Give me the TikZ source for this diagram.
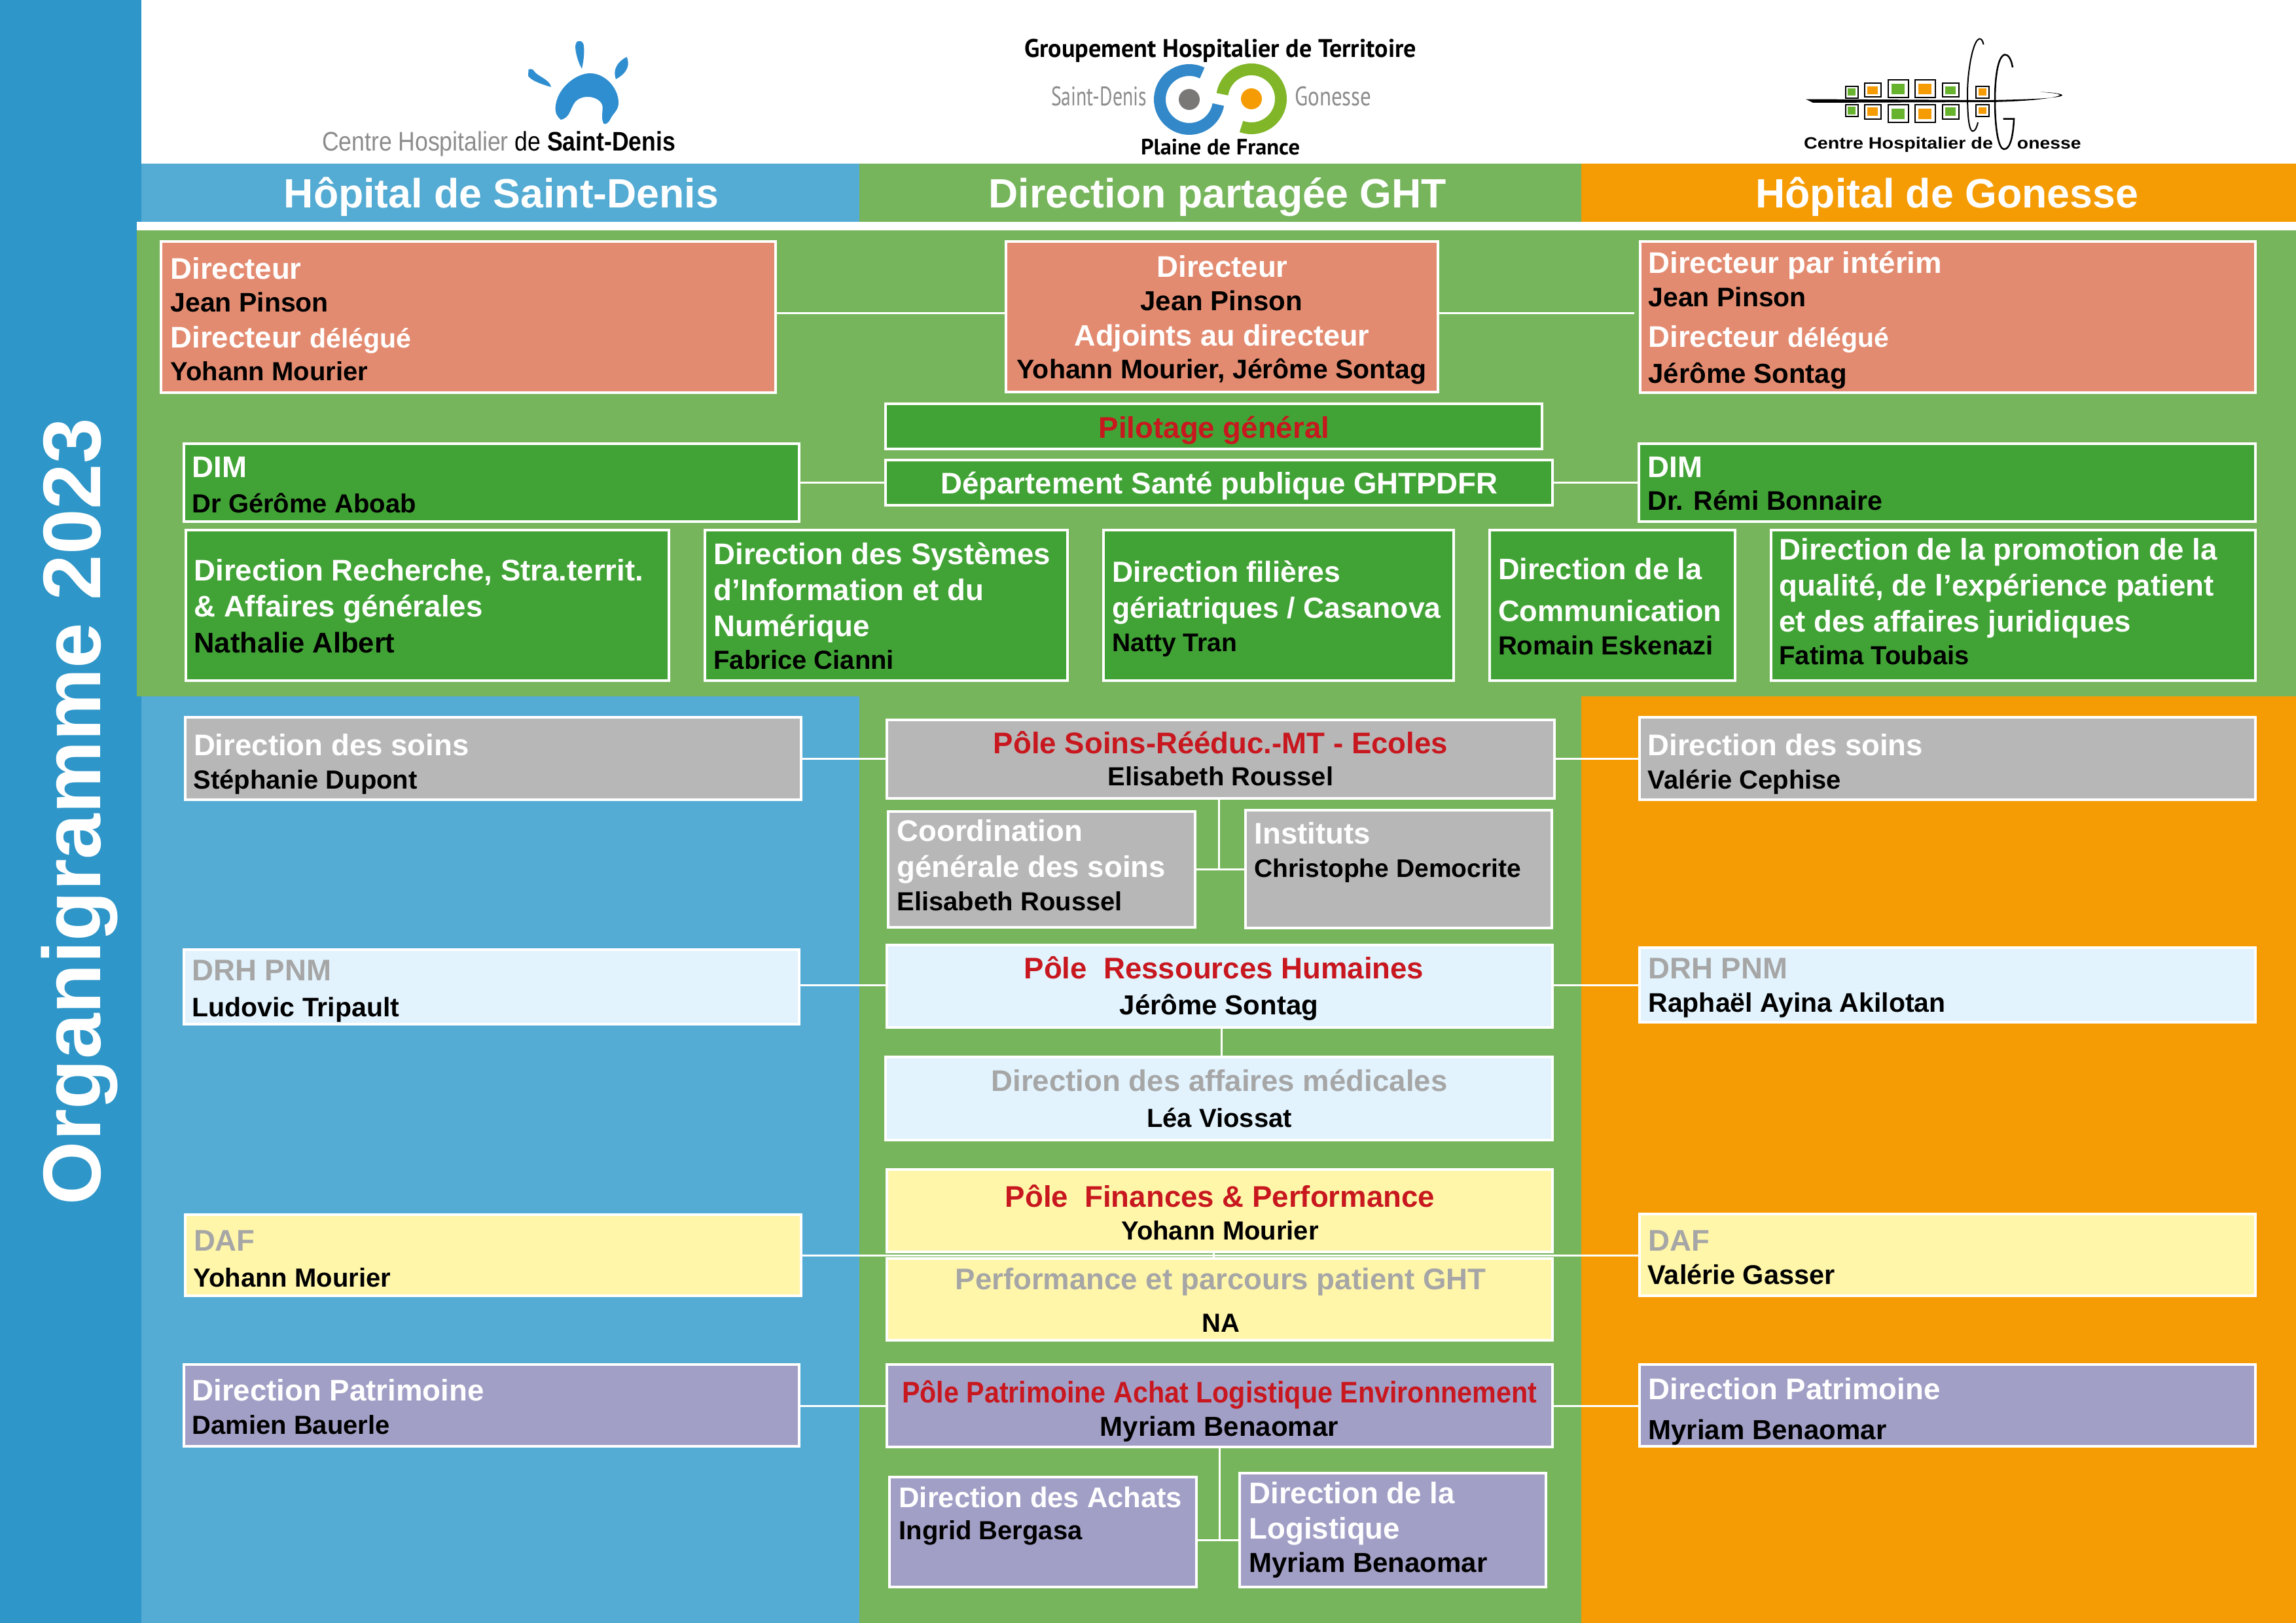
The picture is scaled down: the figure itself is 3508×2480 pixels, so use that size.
\documentclass[tikz,border=0pt]{standalone}
\usepackage{fontspec}
\setmainfont{Liberation Sans}
\newfontfamily\ptf{PT Sans}
\definecolor{sideblue}{HTML}{2E96C8}
\definecolor{sdblue}{HTML}{54ABD3}
\definecolor{ghtgreen}{HTML}{76B55B}
\definecolor{gonorange}{HTML}{F59C04}
\definecolor{salmon}{HTML}{E38B70}
\definecolor{boxgreen}{HTML}{41A335}
\definecolor{boxgray}{HTML}{B7B7B7}
\definecolor{boxsky}{HTML}{E2F3FE}
\definecolor{boxyellow}{HTML}{FFF6AA}
\definecolor{boxpurple}{HTML}{A19FC6}
\definecolor{polered}{HTML}{C8171E}
\definecolor{softgray}{HTML}{A6A6A6}
\definecolor{logogray}{HTML}{8C8C8C}
\definecolor{logoblue}{HTML}{2F8ED0}
\definecolor{ringblue}{HTML}{3288C9}
\definecolor{ringgreen}{HTML}{80B628}
\definecolor{dotgray}{HTML}{7A7876}
\definecolor{sqgreen}{HTML}{68B32E}
\tikzset{
  orgbox/.style={draw=white,line width=4pt,inner sep=0pt,rectangle},
  link/.style={draw=white,line width=3pt},
  headtext/.style={text=white,font=\fontsize{62.6}{62.6}\selectfont\bfseries,inner sep=0pt,anchor=base},
  logotext/.style={inner sep=0pt,anchor=base},
  ring/.style={line width=18pt,line cap=butt},
}
% text macros
\newcommand\ti{\fontsize{45.6}{50}\selectfont\bfseries\color{white}}
\newcommand\tis[1]{\fontsize{#1}{50}\selectfont\bfseries\color{white}}
\newcommand\tr{\fontsize{45.6}{50}\selectfont\bfseries\color{polered}}
\newcommand\tg{\fontsize{45.6}{50}\selectfont\bfseries\color{softgray}}
\newcommand\ns[1]{\fontsize{#1}{#1}\selectfont\bfseries\color{black}}
\newcommand\na{\ns{41}}
% a line of text in a box, at absolute picture position (left end / centre, baseline)
\newcommand\TL[3]{\rlap{\smash{\raisebox{\dimexpr\bcy pt-#2pt-1.5pt\relax}{\kern\dimexpr#1pt-\bcx pt-1.5pt\relax #3}}}}
\newcommand\TC[3]{\rlap{\smash{\raisebox{\dimexpr\bcy pt-#2pt-1.5pt\relax}{\kern\dimexpr#1pt-\bcx pt\relax\hbox to 0pt{\hss #3\hss}}}}}
% \bx{name}{fill}{x0}{y0}{x1}{y1}{text}: outer edges given
\newcommand\bx[7]{%
  \pgfmathsetmacro\bcx{(#3+#5)/2}\pgfmathsetmacro\bcy{(#4+#6)/2}%
  \pgfmathsetmacro\bw{#5-#3-4}\pgfmathsetmacro\bh{#6-#4-4}%
  \node[orgbox,fill=#2,minimum width=\bw pt,minimum height=\bh pt] (#1) at (\bcx,\bcy) {#7};}
\newcommand\fitw[2]{\resizebox{#1pt}{\height}{#2}}
\newcommand\sq[5]{%
  \pgfmathsetmacro\qa{#1-#3/2}\pgfmathsetmacro\qb{#2-#4/2}\pgfmathsetmacro\qc{#1+#3/2}\pgfmathsetmacro\qd{#2+#4/2}%
  \pgfmathsetmacro\qe{\qa+0.18*#3}\pgfmathsetmacro\qf{\qb+0.18*#3}\pgfmathsetmacro\qg{\qc-0.18*#3}\pgfmathsetmacro\qh{\qd-0.18*#3}%
  \draw[black,line width=2pt,fill=white] (\qa,\qb) rectangle (\qc,\qd);
  \fill[#5] (\qe,\qf) rectangle (\qg,\qh);}
\begin{document}
\begin{tikzpicture}[x=1pt,y=-1pt]
\useasboundingbox (0,0) rectangle (3508,2480);
\fill[white] (0,0) rectangle (3508,2480);
% bands
\fill[sideblue] (0,0) rectangle (216,2480);
\fill[sdblue] (216,250) rectangle (1312.5,339.5);
\fill[ghtgreen] (1312.5,250) rectangle (2416,339.5);
\fill[gonorange] (2416,250) rectangle (3508,339.5);
\fill[white] (209,339.5) rectangle (3508,352);
\fill[sdblue] (216,1064) rectangle (1312.5,2480);
\fill[ghtgreen] (1312.5,1064) rectangle (2416,2480);
\fill[gonorange] (2416,1064) rectangle (3508,2480);
\fill[ghtgreen] (209,352) rectangle (3508,1064);
% sidebar and column titles
\node[text=white,font=\fontsize{125}{125}\selectfont\bfseries,inner sep=0pt,anchor=base,rotate=90] (sidetitle) at (153,1240) {Organigramme 2023};
\node[headtext] (headsd) at (766,317.5) {Hôpital de Saint-Denis};
\node[headtext] (headght) at (1860,317.5) {Direction partagée GHT};
\node[headtext] (headgon) at (2974.6,317.5) {Hôpital de Gonesse};
% Saint-Denis logo
\fill[logoblue] (881,64) .. controls (886,61) and (891,63) .. (892,70) .. controls (893,80) and (892,92) .. (889,105) .. controls (883,95) and (879,80) .. (879,70) -- cycle;
\fill[logoblue] (957.5,87) .. controls (962,97) and (961,110) .. (941,121) .. controls (936,108) and (942,95) .. (957.5,87) -- cycle;
\fill[logoblue] (807.5,106.5) .. controls (811,104) and (815,106) .. (817,110) .. controls (823,117) and (840,122) .. (842,133) .. controls (828,129) and (811,123) .. (807,116) -- cycle;
\fill[logoblue] (857,183) .. controls (851,178) and (848,172) .. (848.6,165) .. controls (850,135) and (880,112) .. (901.5,112) .. controls (925,112) and (945,135) .. (945,157) .. controls (945,168) and (938,172) .. (933.6,180) .. controls (930,188) and (925,191) .. (922.6,189) .. controls (918,183) and (921,170) .. (920.7,163) .. controls (920,155) and (910,148) .. (898,148) .. controls (888,148) and (880,152) .. (876,160) .. controls (871,168) and (870,180) .. (857,183) -- cycle;
\node[logotext] (logosd) at (762,230.7) {\fitw{540}{\fontsize{41}{41}\selectfont\color{logogray}Centre Hospitalier \color{black}de \bfseries Saint-Denis}};
% GHT logo
\node[logotext] (ghttop) at (1864.5,87.5) {\fitw{599}{\ptf\bfseries\fontsize{39}{39}\selectfont Groupement Hospitalier de Territoire}};
\node[logotext] (ghtsd) at (1679,161.5) {\fitw{146}{\ptf\fontsize{41}{41}\selectfont\color{logogray}Saint-Denis}};
\node[logotext] (ghtgon) at (2036.7,161.5) {\fitw{117}{\ptf\fontsize{41}{41}\selectfont\color{logogray}Gonesse}};
\node[logotext] (ghtbot) at (1864.5,236.5) {\fitw{243}{\ptf\bfseries\fontsize{34}{34}\selectfont Plaine de France}};
\draw[ring,ringblue] plot[domain=-64:-350,samples=60] ({1817+45*cos(\x)},{152+45*sin(\x)});
\draw[ring,ringgreen] plot[domain=110:-171,samples=60] ({1912+45*cos(\x)},{151+45*sin(\x)});
\fill[dotgray] (1817,152) circle[radius=16pt];
\fill[gonorange] (1912,151) circle[radius=16pt];
% Gonesse logo
\sq{2829}{140.7}{19}{18}{sqgreen}
\sq{2861}{138}{25}{21}{gonorange}
\sq{2900}{135.7}{31}{27}{sqgreen}
\sq{2941}{135.7}{31}{27}{gonorange}
\sq{2980}{138}{25}{21}{sqgreen}
\sq{3029}{140.7}{20}{18}{gonorange}
\sq{2829}{169}{19}{18}{sqgreen}
\sq{2861}{171}{25}{22}{gonorange}
\sq{2900}{174}{31}{27}{sqgreen}
\sq{2941}{174}{31}{27}{gonorange}
\sq{2980}{171}{25}{22}{sqgreen}
\sq{3029}{169}{20}{18}{gonorange}
\fill[black] (2759,151.5) -- (3040,153) .. controls (3100,152) and (3150,150) .. (3151,145.5) .. controls (3150,143) and (3135,141) .. (3117,140.5) .. controls (3135,142) and (3147,143) .. (3147,145.5) .. controls (3140,150) and (3100,155) .. (3040,156) -- (2770,157) -- cycle;
\draw[black,line width=2pt] (3030.5,68) .. controls (3029,60) and (3026,59) .. (3024,59.5) .. controls (3014,62) and (3006,110) .. (3006,143) .. controls (3006,175) and (3008,200) .. (3014,200.5) .. controls (3018,200) and (3020,195) .. (3022,187);
\draw[black,line width=2.5pt] (3075,103) .. controls (3073,90) and (3068,83) .. (3063,83.5) .. controls (3052,86) and (3048,120) .. (3048,153) .. controls (3048,195) and (3053,228) .. (3062,228) .. controls (3072,228) and (3076,205) .. (3077,181.7) -- (3060.5,181.7);
\node[logotext] (gonl) at (2900.5,227.5) {\fitw{289}{\fontsize{25}{25}\selectfont\bfseries Centre Hospitalier de}};
\node[logotext] (gonr) at (3130.7,227.5) {\fitw{97.5}{\fontsize{25}{25}\selectfont\bfseries onesse}};
% direction row
\bx{dirl}{salmon}{243.5}{366.5}{1187}{601.5}{%
 \TL{262}{425}{\ti Directeur}\TL{262}{475}{\na Jean Pinson}%
 \TL{262}{529.5}{\ti Directeur {\fontsize{41}{41}\selectfont délégué}}\TL{262}{580}{\ns{40}Yohann Mourier}}
\bx{dirc}{salmon}{1535}{366.5}{2199}{601}{%
 \TC{1867.5}{422.4}{\ti Directeur}\TC{1866}{472.7}{\ns{42}Jean Pinson}%
 \TC{1867}{527}{\tis{45}Adjoints au directeur}\TC{1866.5}{577.4}{\na Yohann Mourier, Jérôme Sontag}}
\bx{dirr}{salmon}{2504}{366.5}{3448}{601.5}{%
 \TL{2520}{416}{\ti Directeur par intérim}\TL{2520}{466.6}{\na Jean Pinson}%
 \TL{2520}{528.5}{\ti Directeur {\fontsize{41}{41}\selectfont délégué}}\TL{2520}{583.5}{\ns{42}Jérôme Sontag}}
\bx{pilot}{boxgreen}{1351}{615}{2358}{688}{\TC{1855}{668}{\tr Pilotage général}}
\bx{dsp}{boxgreen}{1351}{701}{2374}{774}{\TC{1863}{753.4}{\ti Département Santé publique GHTPDFR}}
\bx{diml}{boxgreen}{279}{676}{1223}{799}{\TL{295}{728}{\ti DIM}\TL{295}{782}{\ns{40}Dr Gérôme Aboab}}
\bx{dimr}{boxgreen}{2502}{676}{3448}{799}{\TL{2519}{728}{\ti DIM}\TL{2519}{777.6}{\na Dr. Rémi Bonnaire}}
\bx{rech}{boxgreen}{282}{808}{1024}{1042}{%
 \TL{298}{885.6}{\ti Direction Recherche, Stra.territ.}\TL{298}{940.5}{\ti \& Affaires générales}\TL{298}{995.5}{\ns{43.5}Nathalie Albert}}
\bx{dsi}{boxgreen}{1075}{808}{1633}{1042}{%
 \TL{1092}{860.5}{\ti Direction des Systèmes}\TL{1092}{916}{\ti d’Information et du}\TL{1092}{971}{\ti Numérique}\TL{1092}{1020.6}{\ns{40}Fabrice Cianni}}
\bx{filg}{boxgreen}{1684}{808}{2222.5}{1042}{%
 \TL{1701}{888.4}{\tis{44.5}Direction filières}\TL{1701}{943}{\tis{44.5}gériatriques / Casanova}\TL{1701}{994}{\ns{39}Natty Tran}}
\bx{comm}{boxgreen}{2274}{808}{2653}{1042}{%
 \TL{2290.5}{883.8}{\tis{45.2}Direction de la}\TL{2290.5}{947.5}{\tis{45.2}Communication}\TL{2290.5}{998.8}{\ns{40}Romain Eskenazi}}
\bx{qual}{boxgreen}{2704}{808}{3448}{1042}{%
 \TL{2720}{853.5}{\ti Direction de la promotion de la}\TL{2720}{909}{\ti qualité, de l’expérience patient}\TL{2720}{964}{\ti et des affaires juridiques}\TL{2720}{1014}{\ns{40}Fatima Toubais}}
% soins
\bx{soinsl}{boxgray}{281}{1094}{1226}{1224}{\TL{297.5}{1153}{\ti Direction des soins}\TL{297}{1204}{\ns{40}Stéphanie Dupont}}
\bx{soinsr}{boxgray}{2502.5}{1094}{3448}{1224}{\TL{2519}{1153}{\ti Direction des soins}\TL{2519}{1204}{\ns{40}Valérie Cephise}}
\bx{psoins}{boxgray}{1353}{1098}{2377}{1222}{\TC{1865}{1149.5}{\tr Pôle Soins-Rééduc.-MT - Ecoles}\TC{1865}{1199}{\ns{40}Elisabeth Roussel}}
\bx{coord}{boxgray}{1355}{1238}{1828}{1419}{%
 \TL{1372}{1284}{\ti Coordination}\TL{1372}{1338.7}{\ti générale des soins}\TL{1372}{1389.7}{\ns{40}Elisabeth Roussel}}
\bx{inst}{boxgray}{1901}{1236}{2373}{1420}{\TL{1918}{1288}{\ti Instituts}\TL{1918}{1338.7}{\ns{39}Christophe Democrite}}
% RH
\bx{drhl}{boxsky}{278.5}{1449}{1223}{1567}{\TL{295}{1497}{\tg DRH PNM}\TL{295}{1552}{\na Ludovic Tripault}}
\bx{drhr}{boxsky}{2503}{1446}{3448}{1564}{\TL{2520}{1494}{\tg DRH PNM}\TL{2520}{1545}{\na Raphaël Ayina Akilotan}}
\bx{prh}{boxsky}{1353}{1442}{2374}{1572}{\TC{1870}{1494}{\tr Pôle\ \ Ressources Humaines}\TC{1862.5}{1549}{\ns{42}Jérôme Sontag}}
\bx{amed}{boxsky}{1351}{1613}{2374}{1744}{\TC{1863}{1666}{\tg Direction des affaires médicales}\TC{1863}{1721}{\ns{40}Léa Viossat}}
% finances
\bx{dafl}{boxyellow}{281}{1854}{1226}{1982}{\TL{297.5}{1909.5}{\tg DAF}\TL{297}{1964.6}{\ns{40}Yohann Mourier}}
\bx{dafr}{boxyellow}{2503}{1853}{3448}{1982}{\TL{2520}{1909.5}{\tg DAF}\TL{2519}{1961}{\ns{41.5}Valérie Gasser}}
\bx{pfin}{boxyellow}{1353}{1785}{2374}{1915}{\TC{1864}{1843}{\tr Pôle\ \ Finances \& Performance}\TC{1864}{1893}{\ns{40}Yohann Mourier}}
\bx{perf}{boxyellow}{1353}{1921}{2374}{2050}{\TC{1865}{1969}{\tg Performance et parcours patient GHT}\TC{1865}{2034}{\ns{40}NA}}
% patrimoine
\bx{patl}{boxpurple}{278.5}{2083}{1223}{2212}{\TL{295}{2139}{\ti Direction Patrimoine}\TL{295}{2190}{\ns{40}Damien Bauerle}}
\bx{patr}{boxpurple}{2503}{2083}{3448}{2212}{\TL{2520}{2136.7}{\ti Direction Patrimoine}\TL{2520}{2198}{\ns{42}Myriam Benaomar}}
\bx{ppat}{boxpurple}{1353}{2083}{2374}{2213}{\TC{1863}{2142}{\tr \fitw{970}{Pôle Patrimoine Achat Logistique Environnement}}\TC{1863}{2192.5}{\ns{42}Myriam Benaomar}}
\bx{achat}{boxpurple}{1357}{2255}{1830}{2427}{\TL{1375}{2302}{\tis{43.5}Direction des Achats}\TL{1375}{2351}{\ns{40}Ingrid Bergasa}}
\bx{logi}{boxpurple}{1892}{2249}{2364}{2427}{\TL{1910}{2296}{\ti Direction de la}\TL{1910}{2350}{\ti Logistique}\TL{1910}{2400.5}{\ns{42}Myriam Benaomar}}
% junctions
\coordinate (gapend) at (2497,478);
\coordinate (jsoins) at (1862.5,1328);
\coordinate (jpat) at (1863,2353);
% connectors
\draw[link] (dirl.east |- gapend) -- (dirc.west |- gapend);
\draw[link] (dirc.east |- gapend) -- (gapend);
\draw[link] (diml.east |- 0,737) -- (dsp.west |- 0,737);
\draw[link] (dsp.east |- 0,737) -- (dimr.west |- 0,737);
\draw[link] (soinsl.east |- 0,1159) -- (psoins.west |- 0,1159);
\draw[link] (psoins.east |- 0,1159) -- (soinsr.west |- 0,1159);
\draw[link] (psoins.south -| jsoins) -- (jsoins);
\draw[link] (coord.east |- jsoins) -- (inst.west |- jsoins);
\draw[link] (drhl.east |- 0,1505) -- (prh.west |- 0,1505);
\draw[link] (prh.east |- 0,1505) -- (drhr.west |- 0,1505);
\draw[link] (prh.south -| 1866,0) -- (amed.north -| 1866,0);
\draw[link] (dafl.east |- 0,1918) -- (dafr.west |- 0,1918);
\draw[link] (pfin.south -| 1854,0) -- (perf.north -| 1854,0);
\draw[link] (patl.east |- 0,2148) -- (ppat.west |- 0,2148);
\draw[link] (ppat.east |- 0,2148) -- (patr.west |- 0,2148);
\draw[link] (ppat.south -| jpat) -- (jpat);
\draw[link] (achat.east |- jpat) -- (logi.west |- jpat);
\end{tikzpicture}
\end{document}
